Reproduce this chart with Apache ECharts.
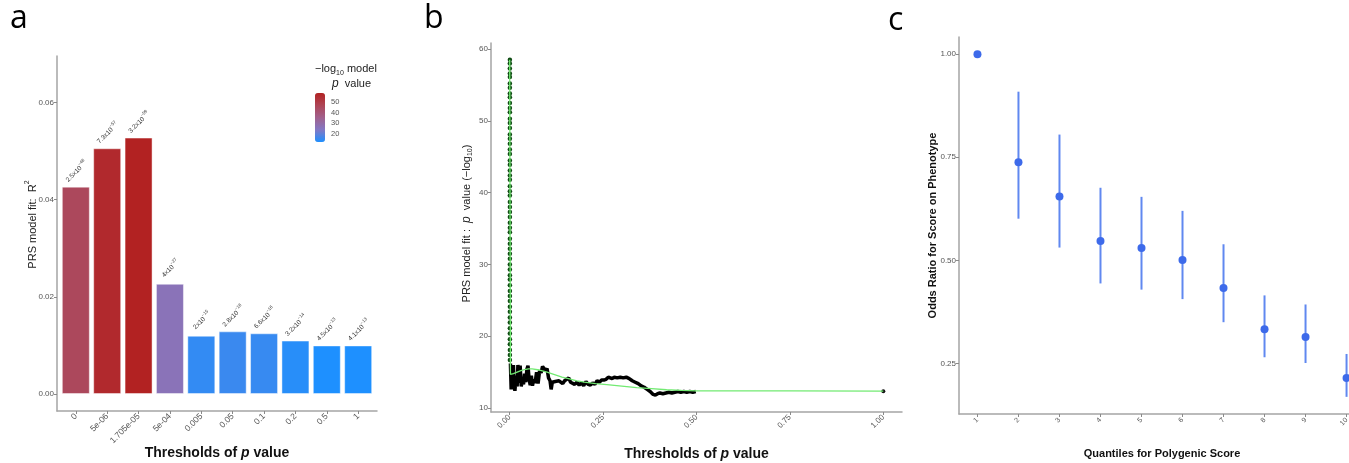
<!DOCTYPE html>
<html>
<head>
<meta charset="utf-8">
<title>PRS thresholds</title>
<script src="https://cdn.jsdelivr.net/npm/echarts@6/dist/echarts.min.js"></script>
<style>
html,body{margin:0;padding:0;background:#fff;}
#main{width:1349px;height:463px;}
</style>
</head>
<body>
<div id="main"></div>
<script>
// ---- panel a : R2 per p-value threshold ----
var thresholds = ['0', '5e-06', '1.705e-05', '5e-04', '0.005', '0.05', '0.1', '0.2', '0.5', '1'];
var r2 = [0.0427, 0.0506, 0.0528, 0.0227, 0.0120, 0.0129, 0.0125, 0.0110, 0.0100, 0.0100];
var pMant = [2.5, 7.3, 3.2, 4, 2, 2.8, 6.6, 3.2, 4.5, 4.1];
var pExp = [-46, -57, -59, -27, -15, -16, -16, -14, -13, -13];
var legendTicks = [20, 30, 40, 50];
var r2Ticks = [0, 0.02, 0.04, 0.06];

// ---- panel b : -log10 p over all thresholds ----
var pathX = [0.002, 0.004, 0.006, 0.008, 0.010, 0.012, 0.014, 0.017, 0.020, 0.022, 0.025, 0.028, 0.031, 0.034, 0.037,
    0.040, 0.043, 0.046, 0.049, 0.052, 0.055, 0.058, 0.061, 0.064, 0.068, 0.072, 0.076, 0.080, 0.084, 0.088, 0.092,
    0.096, 0.100, 0.104, 0.108, 0.111, 0.114, 0.118, 0.122, 0.127, 0.132, 0.137, 0.142, 0.147, 0.152, 0.158, 0.163,
    0.168, 0.174, 0.180, 0.186, 0.192, 0.198, 0.204, 0.210, 0.216, 0.222, 0.228, 0.234, 0.240, 0.246, 0.252, 0.258,
    0.264, 0.268, 0.274, 0.280, 0.288, 0.296, 0.304, 0.312, 0.320, 0.328, 0.336, 0.344, 0.352, 0.360, 0.368, 0.376,
    0.384, 0.390, 0.396, 0.402, 0.410, 0.418, 0.426, 0.434, 0.442, 0.450, 0.458, 0.466, 0.474, 0.482, 0.490, 0.498];
var pathY = [16.2, 12.6, 15.8, 12.8, 16.0, 13.0, 12.4, 14.5, 13.0, 16.0, 13.5, 15.9, 13.0, 14.2, 13.3,
    14.8, 13.6, 15.4, 15.9, 14.0, 13.2, 14.5, 13.1, 14.0, 13.5, 15.0, 13.4, 15.2, 14.9, 15.8, 15.6,
    15.2, 15.5, 14.2, 13.8, 12.6, 13.6, 13.4, 13.7, 13.5, 13.8, 14.0, 13.4, 13.8, 13.9, 14.2, 13.6,
    13.8, 13.3, 13.6, 13.2, 13.5, 13.1, 13.7, 13.3, 13.2, 13.5, 13.3, 13.8, 13.6, 13.9, 13.9, 14.0,
    14.3, 14.5, 14.1, 14.3, 14.2, 14.3, 14.2, 14.3, 14.1, 13.8, 13.6, 13.4, 13.1, 12.9, 12.6, 12.3,
    11.9, 11.8, 12.0, 12.1, 12.0, 12.1, 12.2, 12.1, 12.2, 12.3, 12.2, 12.3, 12.2, 12.3, 12.2, 12.3];
var nearZeroY = [58.5, 58.0, 57.3, 56.6, 56.1, 55.2, 54.6, 53.8, 53.3, 52.5, 51.8, 51.2, 50.3, 49.7, 49.0, 48.1,
    47.5, 46.8, 46.0, 45.4, 44.5, 43.9, 43.1, 42.4, 41.8, 40.9, 40.2, 39.6, 38.7, 38.0, 37.3, 36.6, 35.8, 35.1,
    34.5, 33.6, 32.9, 32.2, 31.5, 30.8, 30.0, 29.3, 28.5, 27.9, 27.1, 26.3, 25.6, 24.9, 24.1, 23.4, 22.6, 21.9,
    21.1, 20.4, 19.6, 18.9, 18.1, 17.4, 16.7];
var smoothX = [0, 0.002, 0.01, 0.02, 0.03, 0.04, 0.05, 0.06, 0.08, 0.10, 0.12, 0.14, 0.16, 0.18, 0.20, 0.23, 0.26,
    0.30, 0.34, 0.38, 0.42, 0.46, 0.50, 0.75, 1.0];
var smoothY = [58.5, 14.7, 14.8, 15.0, 15.2, 15.35, 15.45, 15.45, 15.3, 15.0, 14.65, 14.3, 14.05, 13.8, 13.6, 13.4,
    13.25, 13.05, 12.85, 12.7, 12.55, 12.45, 12.4, 12.38, 12.35];
var lastPoint = [1.0, 12.35];
var bXTicks = [0, 0.25, 0.5, 0.75, 1];
var bYTicks = [10, 20, 30, 40, 50, 60];

// ---- panel c : odds ratio by quantile ----
var quantiles = [1, 2, 3, 4, 5, 6, 7, 8, 9, 10];
var orVal = [1.00, 0.738, 0.655, 0.547, 0.530, 0.501, 0.433, 0.333, 0.314, 0.215];
var orLow = [1.00, 0.601, 0.531, 0.444, 0.429, 0.406, 0.350, 0.265, 0.251, 0.169];
var orHigh = [1.00, 0.909, 0.805, 0.676, 0.654, 0.620, 0.539, 0.415, 0.393, 0.273];
var cYTicks = [0.25, 0.5, 0.75, 1];

var FONT = 'Liberation Sans';
var chart = echarts.init(document.getElementById('main'));

var negLogP = pMant.map(function (m, i) { return -(Math.log10(m) + pExp[i]); });
var vmMin = Math.min.apply(null, negLogP);
var vmMax = Math.max.apply(null, negLogP);

function sup(n) { return String(n).replace('-', '\u2212'); }

function valAxis(grid, min, max, ticks, fmt, extra) {
    var ax = {
        gridIndex: grid, type: 'value', min: min, max: max,
        splitLine: { show: false }, nameMoveOverlap: false,
        axisLine: { show: true, onZero: false, lineStyle: { color: '#a5a5a5', width: 1.5 } },
        axisTick: { show: true, customValues: ticks, length: 3, lineStyle: { color: '#8a8a8a' } },
        axisLabel: { customValues: ticks, formatter: fmt, color: '#555', fontFamily: FONT, fontSize: 8, margin: 3 }
    };
    for (var k in extra) ax[k] = extra[k];
    return ax;
}

function rotLabels(ax, size, margin) {
    ax.axisLabel.rotate = 45;
    ax.axisLabel.fontSize = size;
    ax.axisLabel.margin = margin;
    return ax;
}

var titleRich = {
    b: { fontFamily: FONT, fontSize: 14, fontWeight: 'bold', color: '#111' },
    bi: { fontFamily: FONT, fontSize: 14, fontWeight: 'bold', fontStyle: 'italic', color: '#111' }
};

var option = {
    animation: false,
    backgroundColor: '#fff',
    grid: [
        { left: 57, top: 56, width: 320, height: 355, outerBoundsMode: 'none' },
        { left: 491, top: 43, width: 411, height: 369, outerBoundsMode: 'none' },
        { left: 959, top: 37, width: 406, height: 377, outerBoundsMode: 'none' },
        { left: 315, top: 93, width: 10, height: 49, outerBoundsMode: 'none' }
    ],
    visualMap: {
        type: 'continuous', seriesIndex: 0, dimension: 2,
        min: vmMin, max: vmMax, calculable: false, hoverLink: false,
        left: 315, top: 93, itemWidth: 10, itemHeight: 49, padding: 0, text: null,
        showLabel: false,
        inRange: { color: ['#1E90FF', '#8378C4', '#A1608C', '#AE4556', '#B22222'] }
    },
    xAxis: [
        rotLabels(valAxis(0, 0.4, 10.6, quantiles, function (v) { return thresholds[Math.round(v) - 1]; }, {
            name: '{b|Thresholds of }{bi|p}{b| value}', nameLocation: 'middle', nameGap: 35,
            nameTextStyle: { rich: titleRich }
        }), 8.5, 4),
        rotLabels(valAxis(1, -0.05, 1.05, bXTicks, function (v) { return v.toFixed(2); }, {
            name: '{b|Thresholds of }{bi|p}{b| value}', nameLocation: 'middle', nameGap: 35,
            nameTextStyle: { rich: titleRich }
        }), 8, 4),
        rotLabels(valAxis(2, 0.55, 10.45, quantiles, function (v) { return String(Math.round(v)); }, {
            name: 'Quantiles for Polygenic Score', nameLocation: 'middle', nameGap: 34,
            nameTextStyle: { fontFamily: FONT, fontSize: 11, fontWeight: 'bold', color: '#111' }
        }), 7, 5),
        { gridIndex: 3, type: 'value', min: 0, max: 1, show: false }
    ],
    yAxis: [
        valAxis(0, -0.0035, 0.0696, r2Ticks, function (v) { return v.toFixed(2); }, {
            name: '{t|PRS model fit:  R}{s|2}', nameLocation: 'middle', nameGap: 19,
            nameTextStyle: { padding: [0, 0, 0, 18], rich: {
                t: { fontFamily: FONT, fontSize: 11, color: '#222', lineHeight: 14, verticalAlign: 'bottom' },
                s: { fontFamily: FONT, fontSize: 7, color: '#222', lineHeight: 7, verticalAlign: 'top' }
            } }
        }),
        valAxis(1, 9.45, 60.85, bYTicks, function (v) { return String(v); }, {
            name: '{t|PRS model fit :  }{i|p}{t|  value (\u2212log}{s|10}{t|)}', nameLocation: 'middle', nameGap: 17,
            nameTextStyle: { padding: [0, 0, 0, 8], rich: {
                t: { fontFamily: FONT, fontSize: 11, color: '#222', lineHeight: 14 },
                i: { fontFamily: FONT, fontSize: 12, fontStyle: 'italic', color: '#222', lineHeight: 14 },
                s: { fontFamily: FONT, fontSize: 7, color: '#222', lineHeight: 7, verticalAlign: 'bottom' }
            } }
        }),
        valAxis(2, 0.1274, 1.0416, cYTicks, function (v) { return v.toFixed(2); }, {
            name: 'Odds Ratio for Score on Phenotype', nameLocation: 'middle', nameGap: 21,
            nameTextStyle: { fontFamily: FONT, fontSize: 11, fontWeight: 'bold', color: '#111' }
        }),
        {
            gridIndex: 3, type: 'value', min: vmMin, max: vmMax, position: 'right',
            splitLine: { show: false }, axisLine: { show: false },
            axisTick: { show: true, inside: true, customValues: legendTicks, length: 2, lineStyle: { color: '#fff' } },
            axisLabel: { customValues: legendTicks, color: '#555', fontFamily: FONT, fontSize: 7.5, margin: 6 }
        }
    ],
    series: [
        {
            type: 'bar', xAxisIndex: 0, yAxisIndex: 0, barWidth: 28,
            data: r2.map(function (v, i) { return [i + 1, v, negLogP[i]]; }),
            encode: { x: 0, y: 1 },
            itemStyle: { borderColor: 'rgba(255,255,255,0.45)', borderWidth: 1 },
            label: {
                show: true, position: 'top', distance: 16, rotate: 45,
                align: 'center', verticalAlign: 'middle',
                formatter: function (p) {
                    return '{m|' + pMant[p.dataIndex] + 'x10}{e|' + sup(pExp[p.dataIndex]) + '}';
                },
                rich: {
                    m: { fontFamily: FONT, fontSize: 6.5, color: '#333', lineHeight: 9, verticalAlign: 'bottom' },
                    e: { fontFamily: FONT, fontSize: 4.5, color: '#333', lineHeight: 5, verticalAlign: 'top' }
                }
            }
        },
        {
            type: 'line', xAxisIndex: 1, yAxisIndex: 1, showSymbol: false,
            data: pathX.map(function (x, i) { return [x, pathY[i]]; }),
            lineStyle: { color: '#000', width: 3.5 }
        },
        {
            type: 'line', xAxisIndex: 1, yAxisIndex: 1, showSymbol: false,
            data: smoothX.map(function (x, i) { return [x, smoothY[i]]; }),
            lineStyle: { color: '#72ea72', width: 1.3 }
        },
        {
            type: 'scatter', xAxisIndex: 1, yAxisIndex: 1, symbolSize: 4.5,
            data: nearZeroY.map(function (y) { return [0.0005, y]; }),
            itemStyle: { color: '#0e4a12', opacity: 1 }
        },
        {
            type: 'scatter', xAxisIndex: 1, yAxisIndex: 1, symbolSize: 4,
            data: [lastPoint], itemStyle: { color: '#111', opacity: 1 }
        },
        {
            type: 'custom', xAxisIndex: 2, yAxisIndex: 2,
            data: quantiles.map(function (q, i) { return [q, orLow[i], orHigh[i]]; }),
            encode: { x: 0, y: [1, 2] },
            renderItem: function (params, api) {
                var a = api.coord([api.value(0), api.value(1)]);
                var b = api.coord([api.value(0), api.value(2)]);
                return {
                    type: 'line',
                    shape: { x1: a[0], y1: a[1], x2: b[0], y2: b[1] },
                    style: { stroke: '#6088f0', lineWidth: 2 }
                };
            }
        },
        {
            type: 'scatter', xAxisIndex: 2, yAxisIndex: 2, symbolSize: 8,
            data: quantiles.map(function (q, i) { return [q, orVal[i]]; }),
            itemStyle: { color: '#3d6aea', opacity: 1 }
        }
    ],
    graphic: [
        { type: 'text', x: 10, y: 19, style: { text: 'a', font: '32px "Open Sans"', fill: '#000', verticalAlign: 'middle' } },
        { type: 'text', x: 424, y: 19, style: { text: 'b', font: '32px "Open Sans"', fill: '#000', verticalAlign: 'middle' } },
        { type: 'text', x: 888, y: 21, style: { text: 'c', font: '32px "Open Sans"', fill: '#000', verticalAlign: 'middle' } },
        {
            type: 'text', x: 315, y: 70,
            style: {
                text: '{t|\u2212log}{s|10}{t| model}', verticalAlign: 'middle',
                rich: {
                    t: { fontFamily: FONT, fontSize: 11, fill: '#222', lineHeight: 13, verticalAlign: 'top' },
                    s: { fontFamily: FONT, fontSize: 7, fill: '#222', lineHeight: 7, verticalAlign: 'bottom' }
                }
            }
        },
        {
            type: 'text', x: 332, y: 84,
            style: {
                text: '{i|p}{t|  value}', verticalAlign: 'middle',
                rich: {
                    i: { fontFamily: FONT, fontSize: 12, fontStyle: 'italic', fill: '#222' },
                    t: { fontFamily: FONT, fontSize: 11, fill: '#222' }
                }
            }
        }
    ]
};

chart.setOption(option);
</script>
</body>
</html>
